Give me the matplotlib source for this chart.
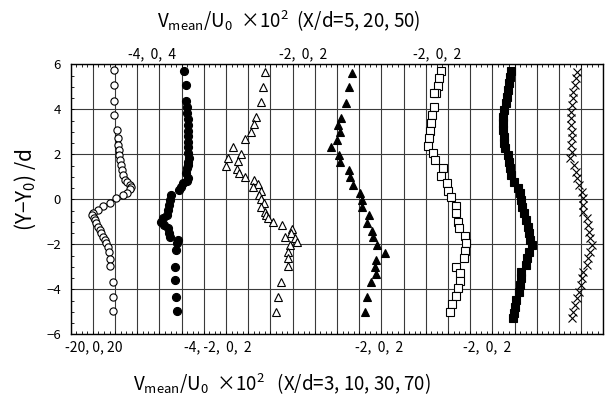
import matplotlib.pyplot as plt
from matplotlib.ticker import MultipleLocator

plt.rcParams['font.family'] = ['Noto Sans CJK JP', 'DejaVu Sans']
plt.rcParams['mathtext.fontset'] = 'custom'
plt.rcParams['mathtext.rm'] = 'Noto Sans CJK JP'
plt.rcParams['mathtext.it'] = 'Noto Sans CJK JP'
plt.rcParams['mathtext.default'] = 'regular'

# mean transverse velocity profiles, V/U0 x 10^2, against (Y-Y0)/d
y_x3 = [5.75, 5.08, 4.39, 3.75, 3.08, 2.71, 2.41, 2.19, 1.97, 1.74, 1.52, 1.30, 1.07, 0.86,
        0.75, 0.64, 0.55, 0.45, 0.30, 0.19, 0.04, -0.15, -0.28, -0.47, -0.62, -0.72, -0.82,
        -0.92, -1.07, -1.21, -1.36, -1.51, -1.66, -1.81, -1.96, -2.10, -2.33, -2.67, -2.96,
        -3.66, -4.33, -4.96]
v_x3 = [-0.3, -0.3, -0.3, -0.3, 0.9, 1.2, 1.5, 1.6, 1.9, 2.2, 2.5, 3.0, 3.4, 4.5, 5.5, 6.5,
        7.0, 6.8, 5.5, 3.4, 0.2, -2.5, -5.5, -7.7, -9.9, -10.2, -9.6, -9.0, -8.4, -7.7, -7.0,
        -6.2, -5.5, -4.7, -4.0, -3.3, -2.9, -2.2, -2.1, -1.0, -1.0, -1.0]

y_x5 = [5.72, 5.08, 4.39, 4.12, 3.82, 3.56, 3.30, 3.05, 2.81, 2.56, 2.31, 2.04, 1.82, 1.67,
        1.53, 1.38, 1.16, 0.93, 0.83, 0.71, 0.56, 0.41, 0.19, -0.03, -0.25, -0.47, -0.70,
        -0.84, -0.99, -1.14, -1.29, -1.51, -1.66, -1.81, -1.96, -2.25, -2.99, -3.59, -4.33,
        -4.95]
v_x5 = [0.48, 0.72, 0.78, 0.90, 1.02, 1.08, 1.08, 1.08, 1.20, 1.20, 1.08, 1.20, 1.38, 1.20,
        1.08, 0.90, 0.72, 1.20, 0.90, 0.30, -0.12, -0.48, -1.92, -2.10, -2.28, -2.40, -2.70,
        -3.30, -3.72, -3.12, -2.40, -2.28, -2.10, -0.72, -0.90, -1.08, -1.20, -1.20, -1.08,
        -0.78]

y_x10 = [5.67, 5.01, 4.34, 3.67, 3.33, 3.01, 2.67, 2.31, 2.00, 1.82, 1.70, 1.48, 1.33, 1.16,
         1.01, 0.86, 0.68, 0.53, 0.37, 0.19, 0.00, -0.18, -0.33, -0.55, -0.70, -0.84, -1.02,
         -1.14, -1.33, -1.51, -1.66, -1.73, -1.88, -2.03, -2.33, -2.62, -2.96, -3.66, -4.36,
         -4.99]
v_x10 = [-0.51, -0.66, -0.87, -1.33, -1.51, -1.78, -2.26, -3.38, -2.62, -3.83, -2.93, -4.04,
         -2.99, -2.84, -2.26, -1.48, -1.12, -1.57, -0.81, -1.06, -0.87, -0.57, -0.81, -0.51,
         -0.36, -0.21, 0.24, 1.00, 1.96, 1.84, 1.30, 2.20, 2.44, 1.75, 1.60, 1.60, 1.60, 0.94,
         0.69, 0.54]

y_x20 = [5.63, 4.98, 4.30, 3.63, 3.30, 3.01, 2.64, 2.31, 1.97, 1.67, 1.30, 0.98, 0.64, 0.30,
         -0.03, -0.33, -0.70, -1.07, -1.39, -1.69, -2.03, -2.37, -2.70, -3.03, -3.33, -3.66,
         -4.36, -5.02]
v_x20 = [-0.66, -0.90, -1.19, -1.64, -1.94, -1.73, -2.03, -2.54, -1.85, -1.73, -0.90, -0.84,
         -0.60, 0.06, 0.24, 0.24, 0.90, 0.69, 1.13, 1.25, 1.64, 2.30, 1.49, 1.43, 1.49, 1.10,
         0.66, 0.54]

y_x30 = [5.72, 5.38, 5.04, 4.71, 4.71, 4.09, 3.75, 3.41, 3.05, 2.71, 2.37, 2.07, 1.75, 1.38,
         1.04, 0.71, 0.39, 0.09, -0.30, -0.62, -0.99, -1.29, -1.63, -1.96, -2.30, -2.62, -2.99,
         -3.29, -3.61, -3.96, -4.30, -4.65, -4.99]
v_x30 = [-0.61, -0.82, -0.91, -1.06, -1.24, -1.30, -1.42, -1.52, -1.61, -1.67, -1.82, -1.36,
         -1.21, -0.45, -0.61, -0.09, 0.00, 0.30, 0.70, 0.70, 0.91, 1.00, 1.52, 1.67, 1.52, 1.42,
         0.70, 1.06, 1.06, 0.91, 0.76, 0.36, 0.21]

y_x50 = [5.72, 5.45, 5.16, 4.86, 4.56, 4.27, 3.97, 3.67, 3.38, 3.08, 2.79, 2.49, 2.27, 1.97,
         1.67, 1.38, 1.08, 0.79, 0.49, 0.27, -0.03, -0.33, -0.62, -0.92, -1.21, -1.51, -1.81,
         -2.03, -2.33, -2.62, -2.92, -3.21, -3.51, -3.81, -4.10, -4.47, -4.77, -5.07, -5.29]
v_x50 = [-0.30, -0.39, -0.51, -0.60, -0.69, -0.76, -0.91, -1.06, -1.06, -1.00, -0.97, -0.94,
         -0.82, -0.60, -0.51, -0.39, -0.30, -0.09, 0.30, 0.51, 0.60, 0.69, 0.82, 1.06, 1.21,
         1.30, 1.42, 1.60, 1.30, 1.12, 1.06, 0.60, 0.60, 0.51, 0.39, 0.15, 0.00, -0.09, -0.15]

y_x70 = [5.67, 5.38, 5.08, 4.79, 4.49, 4.19, 3.90, 3.60, 3.30, 3.01, 2.71, 2.41, 2.12, 1.82,
         1.53, 1.23, 0.93, 0.64, 0.34, 0.04, -0.25, -0.55, -0.84, -1.14, -1.44, -1.73, -2.03,
         -2.33, -2.62, -2.92, -3.21, -3.51, -3.81, -4.10, -4.40, -4.70, -4.99, -5.29]
v_x70 = [-0.33, -0.45, -0.54, -0.69, -0.76, -0.85, -0.91, -0.94, -0.91, -0.85, -0.85, -0.88,
         -0.79, -1.00, -0.63, -0.45, -0.33, -0.15, 0.06, 0.15, 0.21, 0.21, 0.51, 0.66, 0.69,
         0.82, 0.97, 0.76, 0.66, 0.51, 0.21, 0.06, -0.03, -0.15, -0.33, -0.54, -0.69, -0.85]

top_scales = ['-4,  0,  4', '-2,  0,  2', '-2,  0,  2']
bottom_scales = ['-20, 0, 20', '-4, -2,  0,  2', '-2,  0,  2', '-2,  0,  2']

# each profile sits on its own gridline (zero) with its own units per grid division
profiles = [
    (y_x3, v_x3, 2, 10, dict(marker='o', ms=5.2, mfc='white')),
    (y_x5, v_x5, 5, 4, dict(marker='o', ms=5.8, mfc='black')),
    (y_x10, v_x10, 9, 2, dict(marker='^', ms=6.2, mfc='white')),
    (y_x20, v_x20, 13, 2, dict(marker='^', ms=6.2, mfc='black')),
    (y_x30, v_x30, 17, 2, dict(marker='s', ms=5.2, mfc='white')),
    (y_x50, v_x50, 20, 2, dict(marker='s', ms=6.2, mfc='black')),
    (y_x70, v_x70, 23, 2, dict(marker='x', ms=6.0, mfc='none')),
]

W, H = 614, 407
fig = plt.figure(figsize=(W / 100, H / 100), dpi=100)
ax = fig.add_axes([70.7 / W, 72.7 / H, 532.6 / W, 270 / H])

for y, v, zero, scale, style in profiles:
    x = [zero + val / scale for val in v]
    ax.plot(x, y, ls='none', mec='black', mew=0.8, zorder=3, **style)

ax.set_xlim(0, 24)
ax.set_ylim(-6, 6)
ax.xaxis.set_major_locator(MultipleLocator(1))
ax.xaxis.set_minor_locator(MultipleLocator(0.25))
ax.yaxis.set_major_locator(MultipleLocator(2))
ax.yaxis.set_minor_locator(MultipleLocator(0.5))
ax.grid(True, which='major', color='#3a3a3a', lw=0.8)
ax.tick_params(axis='x', which='both', direction='in', top=True, bottom=True,
               labelbottom=False, length=2.5, width=0.6)
ax.tick_params(axis='y', which='both', direction='in', left=True, right=False,
               length=2.5, width=0.6, labelsize=9.5, pad=7)
for s in ax.spines.values():
    s.set_linewidth(1.0)

# scale annotations above and below the frame
for txt, px in zip(top_scales, [151.5, 303, 437]):
    fig.text(px / W, 1 - 54 / H, txt, ha='center', va='center', fontsize=10)
for txt, px in zip(bottom_scales, [94, 217.5, 379.5, 487.5]):
    fig.text(px / W, 1 - 347 / H, txt, ha='center', va='center', fontsize=10)

fig.text(289 / W, 1 - 28 / H, r'V$_{mean}$/U$_0$  ×10$^2$  (X/d=5, 20, 50)',
         ha='center', va='baseline', fontsize=13.5)
fig.text(282 / W, 1 - 391 / H, r'V$_{mean}$/U$_0$  ×10$^2$   (X/d=3, 10, 30, 70)',
         ha='center', va='baseline', fontsize=13.5)
fig.text(25 / W, 1 - 190 / H, r'(Y−Y$_0$) /d', rotation=90, ha='center', va='center',
         fontsize=15)

fig.savefig('out.png', dpi=100)
